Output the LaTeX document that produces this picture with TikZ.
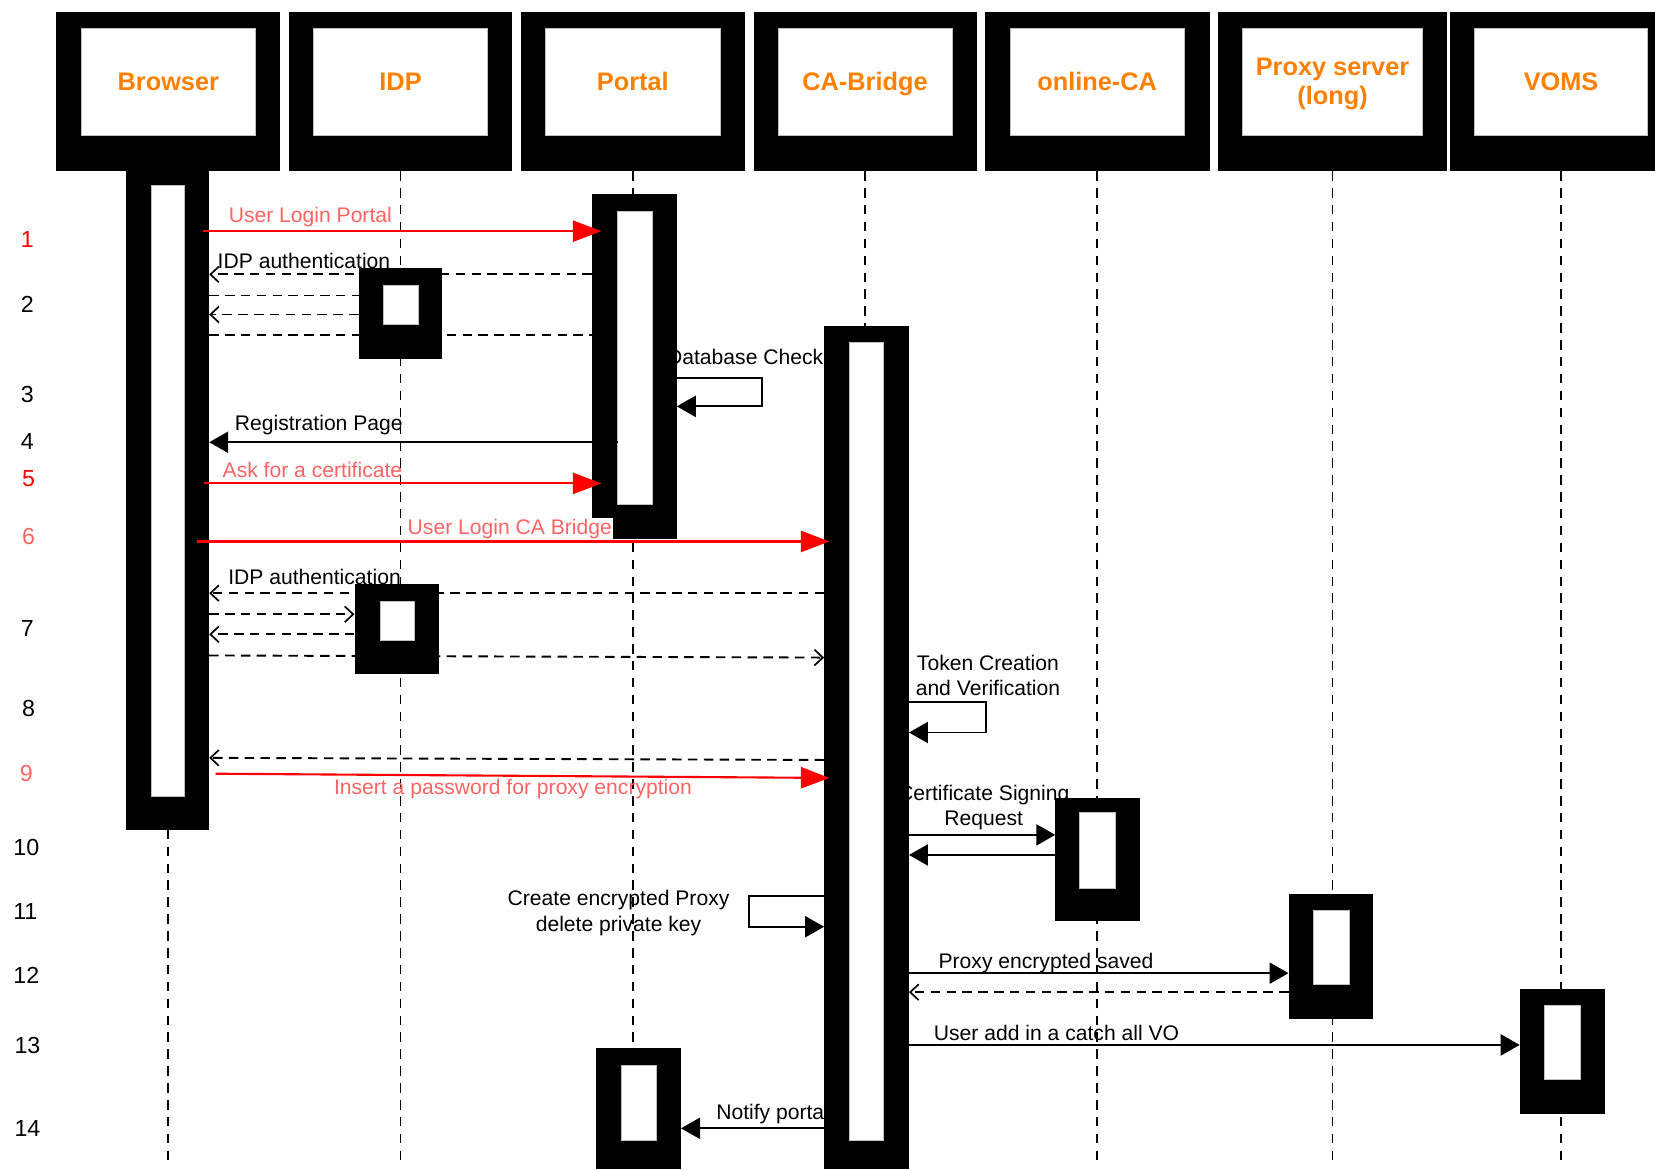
\documentclass[tikz,border=0pt]{standalone}
\usepackage{fontspec}
\setmainfont{Liberation Sans}
\usetikzlibrary{arrows.meta,fit,calc}
\definecolor{hdrorange}{RGB}{255,128,0}
\definecolor{lightred}{RGB}{255,100,100}
\pgfdeclarelayer{lower}
\pgfdeclarelayer{upper}
\pgfsetlayers{lower,main,upper}
\newcommand\mkhead[5]{%
  \node[fit={(#2,11)(#3,162)}, fill=black, inner sep=0pt] (#1) {};
  \node[fit={(#4,27)(#5,128)}, fill=white, draw=black!25, line width=0.6pt, inner sep=0pt] (#1-in) {};
}
\newcommand\mkbar[9]{%
  \node[fit={(#2,#3)(#4,#5)}, fill=black, inner sep=0pt] (#1) {};
  \node[fit={(#6,#7)(#8,#9)}, fill=white, draw=black!25, line width=0.6pt, inner sep=0pt] (#1-in) {};
}
\begin{document}
\begin{tikzpicture}[x=1pt,y=-1pt,
  headtext/.style={font=\fontsize{24}{28}\selectfont\bfseries, text=hdrorange, align=center},
  lbl/.style={font=\fontsize{20}{24}\selectfont, inner sep=1pt, align=center},
  rlbl/.style={lbl, text=lightred},
  num/.style={font=\fontsize{22}{26}\selectfont},
  lifeline/.style={line width=1.7pt, dash pattern=on 9pt off 7pt},
  smsg/.style={line width=1.8pt, -{Triangle[length=18pt,width=20pt]}},
  dmsg/.style={line width=1.8pt, dash pattern=on 9pt off 6pt, -{Straight Barb[length=8pt,width=15pt,line width=1.6pt]}},
  dplain/.style={line width=1.8pt, dash pattern=on 9pt off 6pt},
  redmsg/.style={line width=2pt, red, -{Triangle[length=27pt,width=20pt]}},
]
\useasboundingbox (0,0) rectangle (1568,1108);

% message levels
\coordinate (bot) at (0,1100);
\coordinate (hbase) at (0,86);
\coordinate (m1) at (0,219);
\coordinate (m2a) at (0,260);
\coordinate (m2b) at (0,280);
\coordinate (m2c) at (0,298);
\coordinate (m2d) at (0,317);
\coordinate (m3a) at (0,358);
\coordinate (m3b) at (0,385);
\coordinate (m4) at (0,419);
\coordinate (m5) at (0,458);
\coordinate (m6) at (0,513);
\coordinate (m7a) at (0,562);
\coordinate (m7b) at (0,582);
\coordinate (m7c) at (0,601);
\coordinate (m7d) at (0,621);
\coordinate (m7e) at (0,623);
\coordinate (m8a) at (0,665);
\coordinate (m8b) at (0,694);
\coordinate (m9a) at (0,720);
\coordinate (m9b) at (0,718);
\coordinate (r9a) at (0,733);
\coordinate (r9b) at (0,737);
\coordinate (m10a) at (0,791);
\coordinate (m10b) at (0,810);
\coordinate (m11a) at (0,849);
\coordinate (m11b) at (0,878);
\coordinate (m12a) at (0,922);
\coordinate (m12b) at (0,940);
\coordinate (m13) at (0,990);
\coordinate (m14) at (0,1069);

% headers
\mkhead{hB}{53}{265}{77}{242}
\mkhead{hI}{274}{485}{297}{462}
\mkhead{hP}{494}{706}{517}{682}
\mkhead{hC}{714}{926}{737}{902}
\mkhead{hO}{933}{1146}{957}{1122}
\mkhead{hX}{1154}{1371}{1177}{1348}
\mkhead{hV}{1374}{1568}{1397}{1561}
\node[headtext, anchor=base] (hB-t) at (hB-in.center |- hbase) {Browser};
\node[headtext, anchor=base] (hI-t) at (hI-in.center |- hbase) {IDP};
\node[headtext, anchor=base] (hP-t) at (hP-in.center |- hbase) {Portal};
\node[headtext, anchor=base] (hC-t) at (hC-in.center |- hbase) {CA-Bridge};
\node[headtext, anchor=base] (hO-t) at (hO-in.center |- hbase) {online-CA};
\node[headtext, yshift=-2pt] (hX-t) at (hX-in.center) {Proxy server\\(long)};
\node[headtext, anchor=base] (hV-t) at (hV-in.center |- hbase) {VOMS};

% activation bars
\mkbar{bB}{119}{162}{198}{786}{143}{176}{175}{754}
\mkbar{bP}{561}{184}{641}{511}{585}{200}{618}{478}
\mkbar{bC}{781}{309}{861}{1108}{805}{324}{837}{1080}
\mkbar{bI1}{340}{254}{419}{340}{363}{270}{396}{307}
\mkbar{bI2}{336}{553}{416}{639}{360}{570}{393}{607}
\mkbar{bO}{1000}{756}{1080}{873}{1023}{770}{1057}{842}
\mkbar{bX}{1221}{847}{1301}{965}{1244}{862}{1278}{933}
\mkbar{bV}{1440}{937}{1521}{1055}{1463}{952}{1497}{1023}
\mkbar{bP2}{565}{993}{645}{1108}{589}{1009}{622}{1080}

\begin{pgfonlayer}{lower}
  \fill[white] (0,0) rectangle (1568,1108);
  % lifelines
  \foreach \h in {hB,hI,hP,hC,hO,hX,hV}
    \draw[lifeline] (\h-in.center |- \h.south) -- (\h-in.center |- bot);
  % row numbers
  \node[num, text=red] (n1) at (26,227) {1};
  \node[num] (n2) at (26,288) {2};
  \node[num] (n3) at (26,374) {3};
  \node[num] (n4) at (26,418) {4};
  \node[num, text=red] (n5) at (27,453) {5};
  \node[num, text=lightred] (n6) at (27,508) {6};
  \node[num] (n7) at (26,595) {7};
  \node[num] (n8) at (27,671) {8};
  \node[num, text=lightred] (n9) at (25,733) {9};
  \node[num] (n10) at (25,803) {10};
  \node[num] (n11) at (24,864) {11};
  \node[num] (n12) at (25,924) {12};
  \node[num] (n13) at (26,991) {13};
  \node[num] (n14) at (26,1069) {14};
  % labels
  \node[rlbl] (l1) at (294,206) {User Login Portal};
  \node[lbl] (l2) at (288,247) {IDP authentication};
  \node[lbl] (l3) at (706,338) {Database Check};
  \node[lbl] (l4) at (302,403) {Registration Page};
  \node[rlbl] (l5) at (296,445) {Ask for a certificate};
  \node[lbl] (l7) at (298,547) {IDP authentication};
  \node[lbl] (l8) at (936,640) {Token Creation\\and Verification};
  \node[rlbl] (l9) at (486,748) {Insert a password for proxy encryption};
  \node[lbl] (l10) at (932,765) {Certificate Signing\\Request};
  \node[lbl] (l11) at (586,865) {Create encrypted Proxy\\delete private key};
  \node[lbl] (l12) at (991,912) {Proxy encrypted saved};
  \node[lbl] (l13) at (1001,979) {User add in a catch all VO};
  \node[lbl] (l14) at (732,1055) {Notify portal};
  % dashed messages
  \draw[dmsg] (bP.west |- m2a) -- (bB.east |- m2a);
  \draw[dplain] (bB.east |- m2b) -- (bI1.west |- m2b);
  \draw[dmsg] (bI1.west |- m2c) -- (bB.east |- m2c);
  \draw[dplain] (bB.east |- m2d) -- (bP.west |- m2d);
  \draw[dmsg] (bC.west |- m7a) -- (bB.east |- m7a);
  \draw[dmsg] (bB.east |- m7b) -- (bI2.west |- m7b);
  \draw[dmsg] (bI2.west |- m7c) -- (bB.east |- m7c);
  \draw[dmsg] (bB.east |- m7d) -- (bC.west |- m7e);
  \draw[dmsg] (bC.west |- m9a) -- (bB.east |- m9b);
  \draw[dmsg] (bX.west |- m12b) -- (bC.east |- m12b);
\end{pgfonlayer}

\begin{pgfonlayer}{upper}
  \draw[redmsg, shorten <=-6pt, shorten >=-9pt] (bB.east |- m1) -- (bP.west |- m1);
  \draw[smsg] (bP.east |- m3a) -- ++(81,0) -- ++(0,27) -- (bP.east |- m3b);
  \draw[smsg, shorten <=-25pt] (bP.west |- m4) -- (bB.east |- m4);
  \draw[redmsg, shorten <=-5pt, shorten >=-9pt] (bB.east |- m5) -- (bP.west |- m5);
  \node[rlbl, fill=white] (l6) at (483,501) {User Login CA Bridge};
  \draw[redmsg, shorten <=-12pt, shorten >=-5pt] (bB.east |- m6) -- (bC.west |- m6);
  \draw[smsg] (bC.east |- m8a) -- ++(73,0) -- ++(0,29) -- (bC.east |- m8b);
  \draw[redmsg, shorten <=6pt, shorten >=-5pt] (bB.east |- r9a) -- (bC.west |- r9b);
  \draw[smsg] (bC.east |- m10a) -- (bO.west |- m10a);
  \draw[smsg] (bO.west |- m10b) -- (bC.east |- m10b);
  \draw[smsg] (bC.west |- m11a) -- ++(-71,0) -- ++(0,29) -- (bC.west |- m11b);
  \draw[smsg] (bC.east |- m12a) -- (bX.west |- m12a);
  \draw[smsg] (bC.east |- m13) -- (bV.west |- m13);
  \draw[smsg] (bC.west |- m14) -- (bP2.east |- m14);
\end{pgfonlayer}
\end{tikzpicture}
\end{document}
